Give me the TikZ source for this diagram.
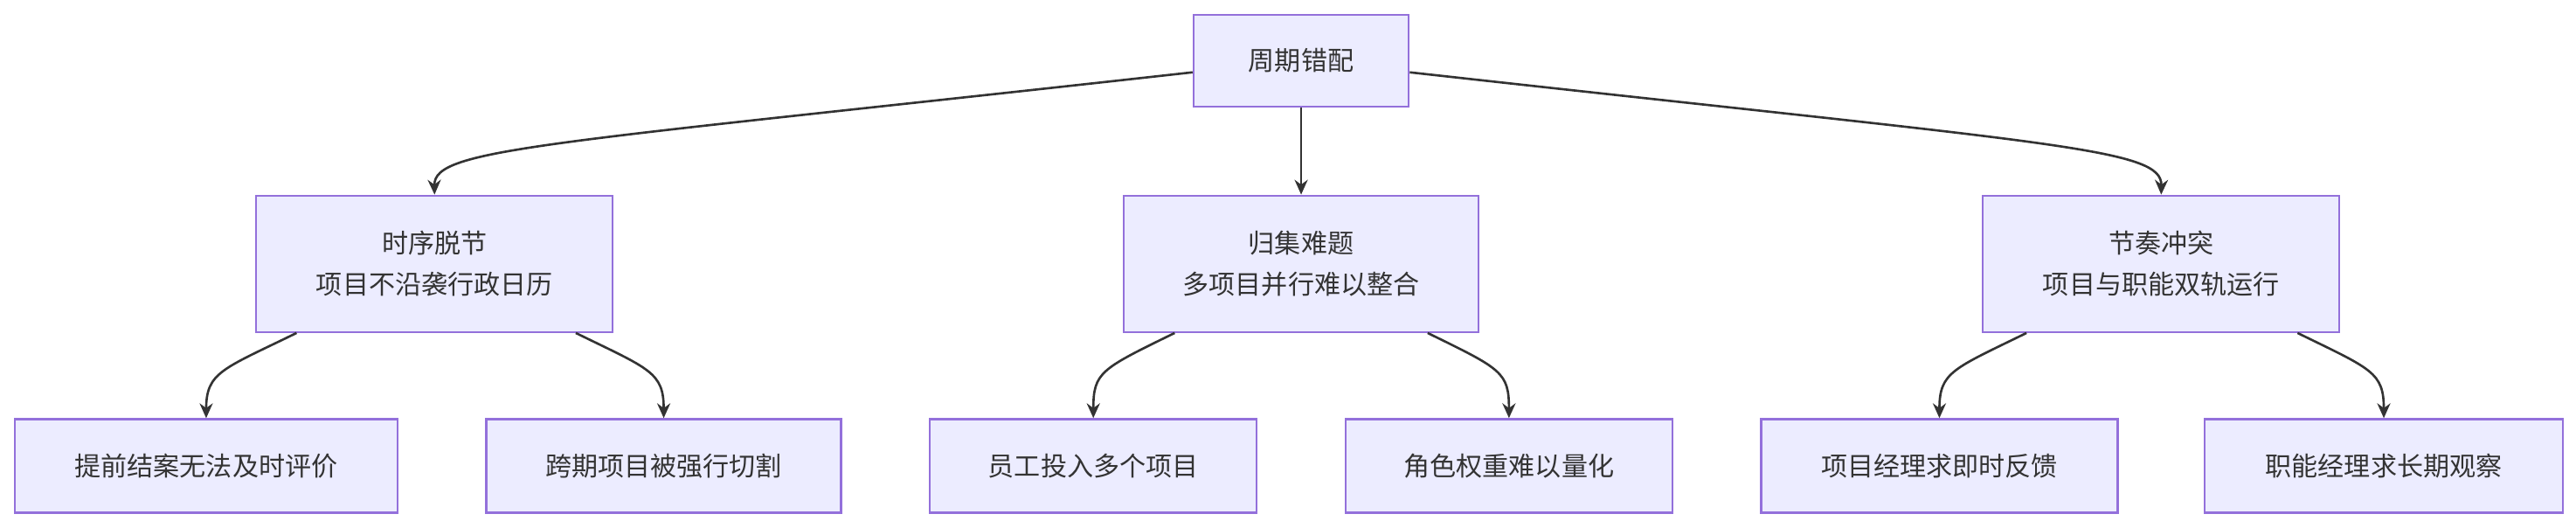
\documentclass[tikz,border=0pt]{standalone}
\usepackage{fontspec}
\setmainfont{Noto Sans CJK SC}
\usetikzlibrary{arrows.meta}
\definecolor{boxfill}{HTML}{ECECFF}
\definecolor{boxline}{HTML}{9370DB}
\definecolor{lineclr}{HTML}{333333}
\begin{document}
\begin{tikzpicture}[x=0.5pt, y=-0.5pt,
		box/.style={draw=boxline, fill=boxfill, line width=0.6pt, align=center,
			text=lineclr, inner sep=0pt, font=\fontsize{8}{12.5}\selectfont},
		edge/.style={draw=lineclr, line width=0.7pt, -{Stealth[length=4.5pt,width=4pt]}}]
	\useasboundingbox (0,0) rectangle (1568,321);
	\node[box, minimum width=65.5pt, minimum height=28pt] (top) at (792,37) {周期错配};
	\node[box, minimum width=108.5pt, minimum height=41.5pt] (m1) at (264.5,160.5) {时序脱节\\项目不沿袭行政日历};
	\node[box, minimum width=108pt, minimum height=41.5pt] (m2) at (792,160.5) {归集难题\\多项目并行难以整合};
	\node[box, minimum width=108.5pt, minimum height=41.5pt] (m3) at (1315.5,160.5) {节奏冲突\\项目与职能双轨运行};
	\node[box, minimum width=116.5pt, minimum height=28.5pt] (b1) at (125.5,283.5) {提前结案无法及时评价};
	\node[box, minimum width=108pt, minimum height=28.5pt] (b2) at (404,283.5) {跨期项目被强行切割};
	\node[box, minimum width=99.5pt, minimum height=28.5pt] (b3) at (665.5,283.5) {员工投入多个项目};
	\node[box, minimum width=99.5pt, minimum height=28.5pt] (b4) at (918.5,283.5) {角色权重难以量化};
	\node[box, minimum width=108.5pt, minimum height=28.5pt] (b5) at (1180.5,283.5) {项目经理求即时反馈};
	\node[box, minimum width=109pt, minimum height=28.5pt] (b6) at (1451,283.5) {职能经理求长期观察};

	\draw[edge] ([yshift=-3.5pt]top.west) .. controls (330,88) and (264,90) .. (m1.north);
	\draw[edge] (top.south) -- (m2.north);
	\draw[edge] ([yshift=-3.5pt]top.east) .. controls (1254,88) and (1316,90) .. (m3.north);

	\draw[edge] ([xshift=-42pt]m1.south) .. controls +(-45,22) and +(0,-28) .. (b1.north);
	\draw[edge] ([xshift=43pt]m1.south) .. controls +(45,22) and +(0,-28) .. (b2.north);
	\draw[edge] ([xshift=-38.5pt]m2.south) .. controls +(-45,22) and +(0,-28) .. (b3.north);
	\draw[edge] ([xshift=38.5pt]m2.south) .. controls +(45,22) and +(0,-28) .. (b4.north);
	\draw[edge] ([xshift=-41pt]m3.south) .. controls +(-45,22) and +(0,-28) .. (b5.north);
	\draw[edge] ([xshift=41.5pt]m3.south) .. controls +(45,22) and +(0,-28) .. (b6.north);
\end{tikzpicture}
\end{document}
